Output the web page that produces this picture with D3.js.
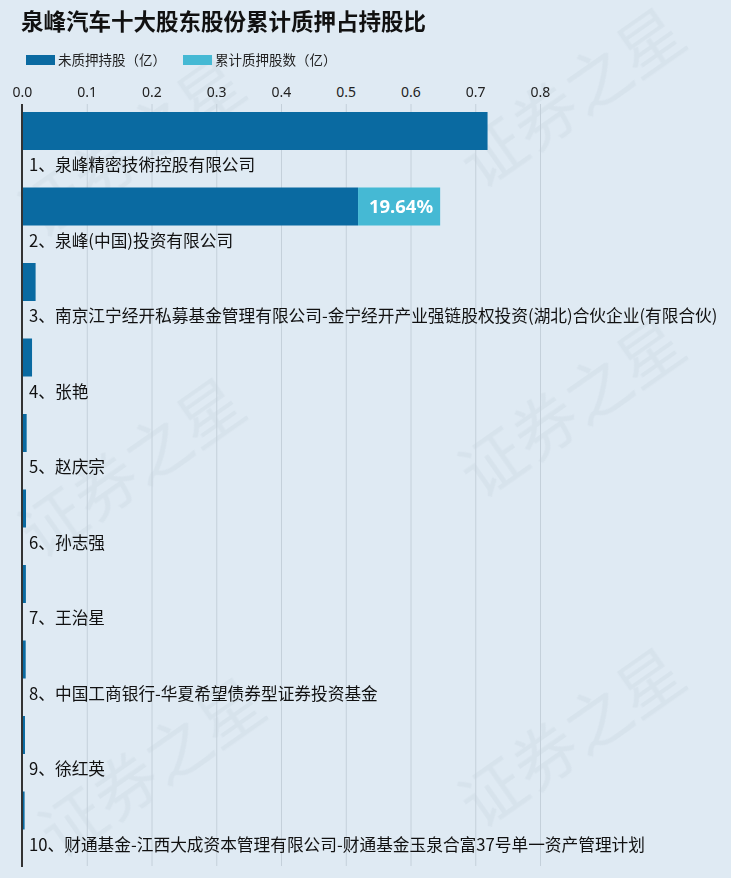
<!DOCTYPE html>
<html><head><meta charset="utf-8">
<script src="https://cdn.jsdelivr.net/npm/d3@7"></script>
<style>
html,body{margin:0;padding:0;background:#dfeaf3;}
svg{display:block;font-family:"Noto Sans CJK SC","Noto Sans",sans-serif;}
</style></head>
<body><div id="chart"></div>
<script>
const title = "泉峰汽车十大股东股份累计质押占持股比";
const seriesNames = ["未质押持股（亿）", "累计质押股数（亿）"];
const categories = [
  "1、泉峰精密技術控股有限公司",
  "2、泉峰(中国)投资有限公司",
  "3、南京江宁经开私募基金管理有限公司-金宁经开产业强链股权投资(湖北)合伙企业(有限合伙)",
  "4、张艳",
  "5、赵庆宗",
  "6、孙志强",
  "7、王治星",
  "8、中国工商银行-华夏希望债券型证券投资基金",
  "9、徐红英",
  "10、财通基金-江西大成资本管理有限公司-财通基金玉泉合富37号单一资产管理计划"
];
const unpledged = [0.719, 0.519, 0.021, 0.0155, 0.0072, 0.0062, 0.006, 0.0057, 0.0046, 0.004];
const pledged   = [0, 0.1268, 0, 0, 0, 0, 0, 0, 0, 0];
const pledgeLabels = ["", "19.64%", "", "", "", "", "", "", "", ""];
const tickValues = [0, 0.1, 0.2, 0.3, 0.4, 0.5, 0.6, 0.7, 0.8];

const W = 731, H = 878;
const colors = ["#0a6aa1", "#45b9d4"];
const svg = d3.select("#chart").append("svg").attr("width", W).attr("height", H);
svg.append("rect").attr("width", W).attr("height", H).attr("fill", "#dfeaf3");

// watermark
const wm = svg.append("g").attr("fill", "#c9d6e0").attr("opacity", 0.35)
  .attr("font-size", 64).attr("font-family", "Noto Sans CJK SC");
[[40,240],[480,190],[40,560],[480,500],[60,860],[480,830]].forEach(([x,y])=>{
  wm.append("text").attr("transform", `translate(${x},${y}) rotate(-35)`).text("证券之星");
});

const x = d3.scaleLinear().domain([0, 0.8]).range([22, 540]);
const y = d3.scaleBand().domain(categories).range([112, 867]);
const barH = 38;

svg.append("text").attr("x", 21).attr("y", 30).attr("font-size", 22.5).attr("font-weight", "bold")
  .attr("fill", "#111").text(title);

// legend
const lg = svg.append("g");
[[26, 0], [183, 1]].forEach(([lx, i]) => {
  lg.append("rect").attr("x", lx).attr("y", 55).attr("width", 29).attr("height", 10).attr("fill", colors[i]);
  lg.append("text").attr("x", lx + 32).attr("y", 65).attr("font-size", 13.5).attr("fill", "#222").text(seriesNames[i]);
});

// grid + axis
const axis = d3.axisTop(x).tickValues(tickValues).tickFormat(d3.format(".1f")).tickSize(-(866 - 104)).tickPadding(8);
const ag = svg.append("g").attr("transform", "translate(0,104)").call(axis);
ag.select(".domain").remove();
ag.selectAll(".tick line").attr("stroke", "#c4d0da").attr("stroke-width", 1);
ag.selectAll(".tick text").attr("font-size", 14).attr("fill", "#222").attr("font-family", "Noto Sans, sans-serif").attr("dy", "0.1em");

// bars
const rows = svg.append("g").selectAll("g").data(categories).join("g")
  .attr("transform", d => `translate(0,${y(d)})`);
rows.append("rect").attr("x", x(0)).attr("y", 0).attr("height", barH)
  .attr("width", (d, i) => x(unpledged[i]) - x(0)).attr("fill", colors[0]);
rows.append("rect").attr("x", (d, i) => x(unpledged[i])).attr("y", 0).attr("height", barH)
  .attr("width", (d, i) => x(unpledged[i] + pledged[i]) - x(unpledged[i])).attr("fill", colors[1]);
rows.append("text").attr("x", (d, i) => x(unpledged[i] + pledged[i]) - 7).attr("y", barH / 2 + 6.5)
  .attr("text-anchor", "end").attr("font-size", 18.5).attr("font-weight", "bold").attr("fill", "#fff")
  .attr("font-family", "Noto Sans, sans-serif")
  .text((d, i) => pledgeLabels[i]);
rows.append("text").attr("x", 29).attr("y", barH + 21).attr("font-size", 16.7).attr("fill", "#111").text(d => d);

// y axis line
svg.append("line").attr("x1", x(0)).attr("x2", x(0)).attr("y1", 104).attr("y2", 867)
  .attr("stroke", "#333").attr("stroke-width", 2);
</script></body></html>
